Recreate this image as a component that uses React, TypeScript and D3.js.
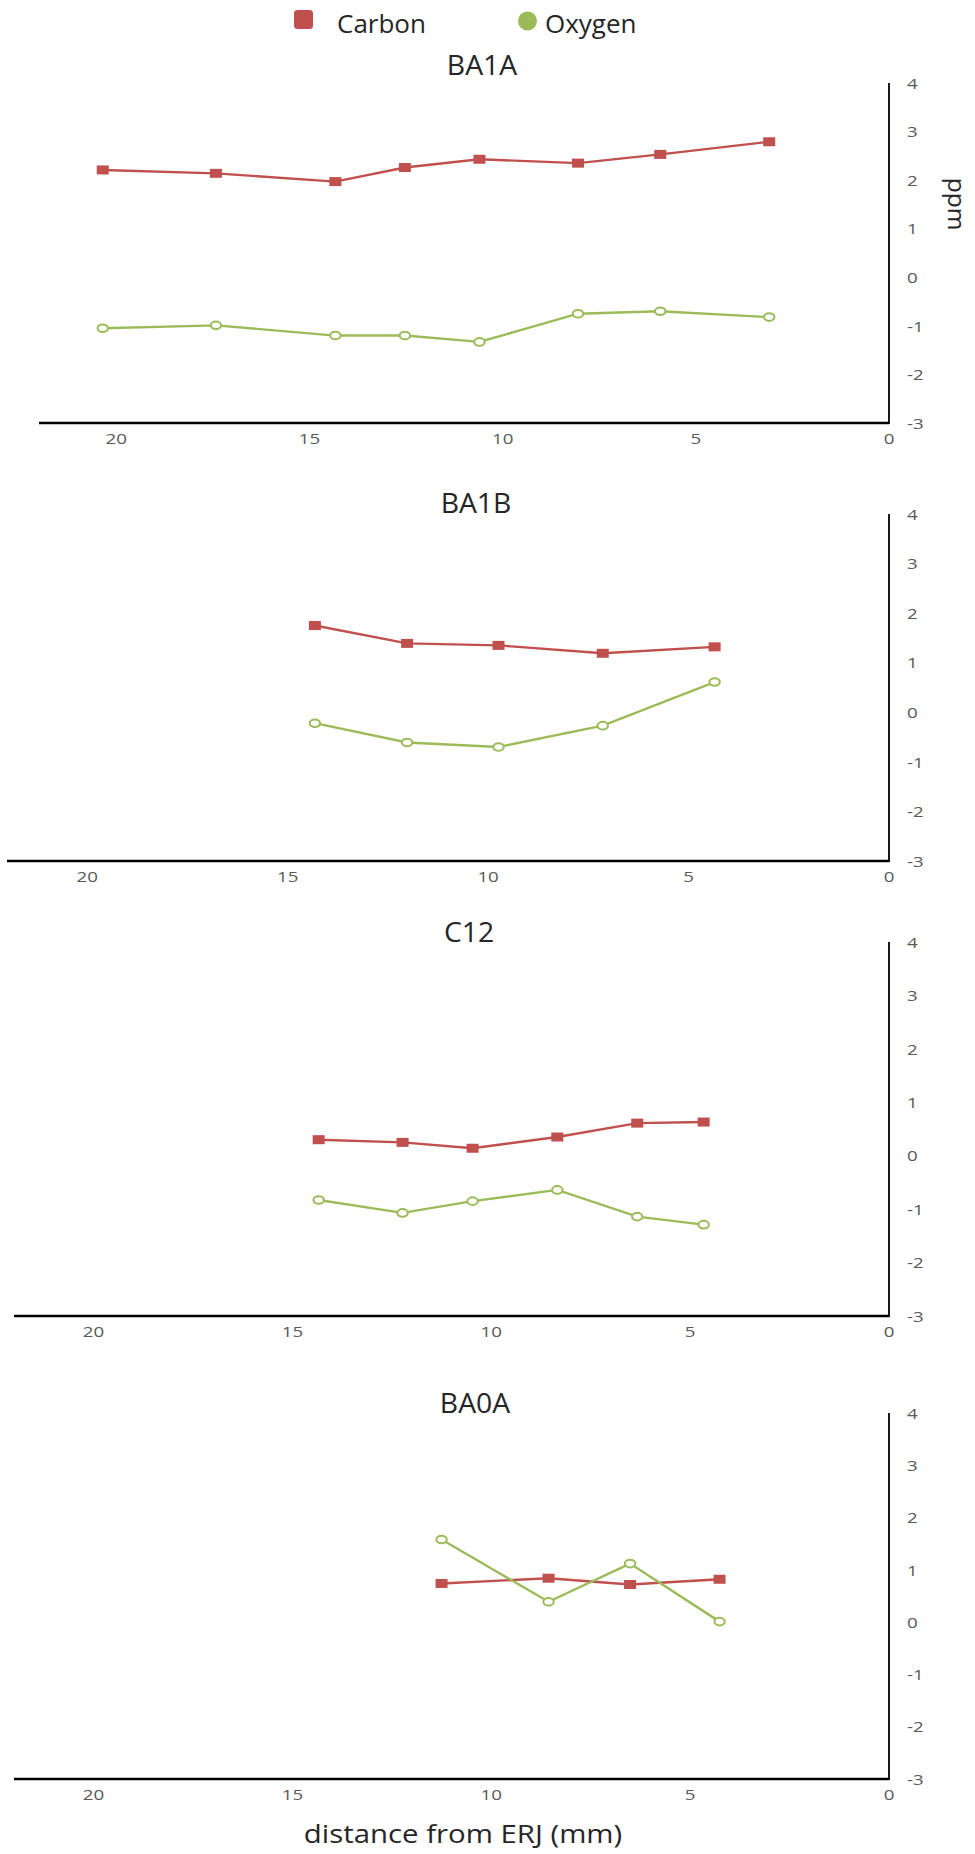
import React from "react";
import * as d3 from "d3";

// ---- data ----
const panelNames = ["BA1A", "BA1B", "C12", "BA0A"];

const distBA1A = [20.35, 17.42, 14.33, 12.53, 10.6, 8.05, 5.92, 3.1];
const carbonBA1A = [2.21, 2.14, 1.97, 2.26, 2.43, 2.35, 2.53, 2.79];
const oxygenBA1A = [-1.05, -0.99, -1.2, -1.2, -1.33, -0.75, -0.7, -0.82];

const distBA1B = [14.32, 12.02, 9.74, 7.14, 4.35];
const carbonBA1B = [1.75, 1.39, 1.35, 1.19, 1.32];
const oxygenBA1B = [-0.22, -0.61, -0.7, -0.27, 0.61];

const distC12 = [14.34, 12.23, 10.47, 8.34, 6.33, 4.66];
const carbonC12 = [0.3, 0.25, 0.14, 0.35, 0.61, 0.63];
const oxygenC12 = [-0.83, -1.07, -0.85, -0.64, -1.14, -1.29];

const distBA0A = [11.25, 8.56, 6.51, 4.26];
const carbonBA0A = [0.74, 0.84, 0.72, 0.82];
const oxygenBA0A = [1.58, 0.39, 1.12, 0.01];

const distances = [distBA1A, distBA1B, distC12, distBA0A];
const carbonSeries = [carbonBA1A, carbonBA1B, carbonC12, carbonBA0A];
const oxygenSeries = [oxygenBA1A, oxygenBA1B, oxygenC12, oxygenBA0A];

const xTicks = [0, 5, 10, 15, 20];
const yTicks = [-3, -2, -1, 0, 1, 2, 3, 4];
const xDomain: [number, number] = [22, 0];
const yDomain: [number, number] = [-3, 4];

const seriesNames = ["Carbon", "Oxygen"];
const axisTitle = "distance from ERJ (mm)";
const yAxisTitle = "ppm";

// ---- layout ----
const W = 975;
const H = 1854;
const AXIS_X = 889;
const layouts = [
  { left: 39, top: 83, bottom: 423, titleX: 482, titleY: 75 },
  { left: 7, top: 514, bottom: 861, titleX: 476, titleY: 513 },
  { left: 14, top: 942, bottom: 1316, titleX: 469, titleY: 942 },
  { left: 14, top: 1413, bottom: 1779, titleX: 475, titleY: 1413 },
];

const RED = "#C0504D";
const GREEN = "#9BBB59";
const FONT = "'Open Sans', 'Noto Sans', sans-serif";
const TICK = "#595959";
const TEXT = "#262626";

type TProps = {
  x: number;
  y: number;
  sx?: number;
  size: number;
  anchor?: "start" | "middle" | "end";
  baseline?: string;
  fill?: string;
  children: React.ReactNode;
};

function T({ x, y, sx = 1, size, anchor = "start", baseline, fill = TEXT, children }: TProps) {
  return (
    <text
      transform={`translate(${x},${y}) scale(${sx},1)`}
      textAnchor={anchor}
      dominantBaseline={baseline as any}
      fontFamily={FONT}
      fontSize={size}
      fill={fill}
    >
      {children}
    </text>
  );
}

function Panel({ i }: { i: number }) {
  const L = layouts[i];
  const x = d3.scaleLinear().domain(xDomain).range([L.left, AXIS_X]);
  const y = d3.scaleLinear().domain(yDomain).range([L.bottom, L.top]);
  const dist = distances[i];
  const carbon = dist.map((d, k) => [d, carbonSeries[i][k]] as [number, number]);
  const oxygen = dist.map((d, k) => [d, oxygenSeries[i][k]] as [number, number]);
  const line = d3
    .line<[number, number]>()
    .x((d) => x(d[0]))
    .y((d) => y(d[1]));
  return (
    <g>
      <T x={L.titleX} y={L.titleY} size={27} sx={1.05} anchor="middle">
        {panelNames[i]}
      </T>
      {/* axes */}
      <line x1={x(xDomain[0])} x2={AXIS_X} y1={y(-3)} y2={y(-3)} stroke="#000" strokeWidth={2.6} />
      <line x1={AXIS_X} x2={AXIS_X} y1={y(4)} y2={y(-3) + 1} stroke="#000" strokeWidth={1.8} />
      {xTicks.map((t) => (
        <T
          key={"x" + t}
          x={x(t)}
          y={y(-3) + 15}
          size={15}
          sx={1.25}
          anchor="middle"
          baseline="central"
          fill={TICK}
        >
          {t}
        </T>
      ))}
      {yTicks.map((t) => (
        <T
          key={"y" + t}
          x={AXIS_X + 18}
          y={y(t)}
          size={15}
          sx={1.25}
          anchor="start"
          baseline="central"
          fill={TICK}
        >
          {t}
        </T>
      ))}
      {/* series */}
      <path d={line(carbon) || ""} fill="none" stroke={RED} strokeWidth={2.4} />
      <path d={line(oxygen) || ""} fill="none" stroke={GREEN} strokeWidth={2.4} />
      {carbon.map((d, k) => (
        <rect
          key={"c" + k}
          x={x(d[0]) - 6}
          y={y(d[1]) - 4.5}
          width={12}
          height={9}
          fill={RED}
        />
      ))}
      {oxygen.map((d, k) => (
        <ellipse
          key={"o" + k}
          cx={x(d[0])}
          cy={y(d[1])}
          rx={5.2}
          ry={3.8}
          fill="#fff"
          stroke={GREEN}
          strokeWidth={2}
        />
      ))}
    </g>
  );
}

export default function App() {
  return (
    <svg
      width={W}
      height={H}
      style={{ position: "absolute", left: 0, top: 0, background: "#fff" }}
    >
      <rect width={W} height={H} fill="#fff" />
      {/* legend */}
      <rect x={294} y={10} width={19} height={19} rx={3.5} fill={RED} />
      <T x={337} y={33} size={26}>
        {seriesNames[0]}
      </T>
      <circle cx={527.5} cy={21} r={9.5} fill={GREEN} />
      <T x={545} y={33} size={26}>
        {seriesNames[1]}
      </T>
      {/* y axis title */}
      <text
        transform="translate(957,204) rotate(90)"
        textAnchor="middle"
        dominantBaseline="central"
        fontFamily={FONT}
        fontSize={24.5}
        fill={TEXT}
      >
        {yAxisTitle}
      </text>
      {panelNames.map((_, i) => (
        <Panel key={i} i={i} />
      ))}
      <T x={463} y={1843} size={26} sx={1.13} anchor="middle">
        {axisTitle}
      </T>
    </svg>
  );
}
